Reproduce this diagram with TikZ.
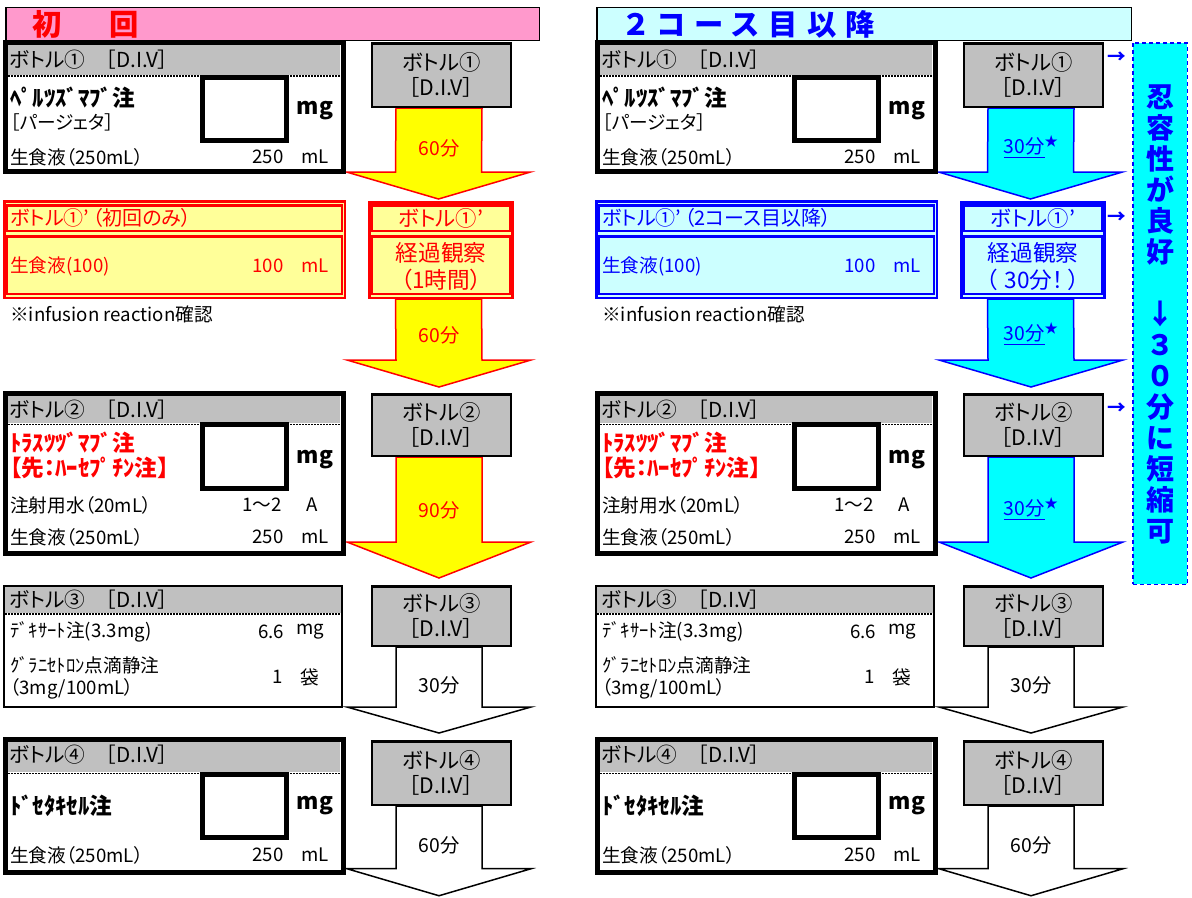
\documentclass[tikz,border=0pt]{standalone}
\usepackage{fontspec}
\setmainfont{Noto Sans CJK JP}[RawFeature=+palt]
\usetikzlibrary{calc}
\newdimen\pxu \pxu=0.75pt
\newcommand\fsN{\fontsize{14pt}{18pt}\selectfont}
\newcommand\fsC{\fontsize{15.5pt}{18pt}\selectfont}
\newcommand\fsT{\fontsize{15pt}{18pt}\selectfont}
\newcommand\fsL{\fontsize{16pt}{18.75pt}\selectfont}
\newcommand\fsB{\fontsize{17pt}{20pt}\selectfont\bfseries}
\newcommand\fsK{\fontsize{17pt}{20.25pt}\selectfont}
\newcommand\fsH{\fontsize{22pt}{24pt}\selectfont\bfseries\addfontfeature{LetterSpace=32}}
\newcommand\fsV{\fontsize{21pt}{23.25pt}\selectfont\bfseries}
\newcommand\fsA{\fontsize{14.5pt}{17pt}\selectfont}
\newcommand\starlbl{\underline{30分}\raisebox{0.35em}{\fontsize{10pt}{10pt}\selectfont ★}}
\definecolor{pinkH}{HTML}{FF99CC}
\definecolor{cyanL}{HTML}{CCFFFF}
\definecolor{yelL}{HTML}{FFFF99}
\definecolor{grayH}{HTML}{C0C0C0}
\definecolor{cyanA}{HTML}{00FFFF}
\definecolor{blueT}{HTML}{0000FF}
\definecolor{redT}{HTML}{FF0000}
\definecolor{yelA}{HTML}{FFFF00}
\pgfdeclarelayer{bg}
\pgfsetlayers{bg,main}
\tikzset{
 txt/.style={inner sep=0pt, anchor=west, font=\fsN},
 lbl/.style={inner sep=0pt, anchor=west, font=\fsC},
 txtB/.style={inner sep=0pt, anchor=west, font=\fsB},
 num/.style={inner sep=0pt, font=\fsN},
 thickbox/.style={line width=5\pxu},
 dotline/.style={line width=1.5\pxu, dash pattern=on 1.5\pxu off 1.5\pxu},
 flowbox/.style={draw, line width=2.5\pxu, fill=grayH, minimum width=139\pxu, align=center, font=\fsL, inner sep=0pt},
 yarrow/.style={fill=yelA, draw=redT, line width=1.5\pxu},
 carrow/.style={fill=cyanA, draw=blueT, line width=1.5\pxu},
 warrow/.style={fill=white, draw=black, line width=1.5\pxu},
 alabel/.style={inner sep=0pt, font=\fsA},
 hdrbox/.style={draw, line width=1.5\pxu, inner sep=0pt, minimum height=33\pxu},
}
% #1 style, #2 from node, #3 to node, #4 head height, #5 gap
\newcommand\flowarrow[5]{%
 \draw[#1] ($(#2.south)+(-45.5,0)$) -- ($(#3.north)+(-45.5,-#4-#5)$) -- ($(#3.north)+(-94.5,-#4-#5)$) -- ($(#3.north)+(-2.5,-#5)$) -- ($(#3.north)+(89.5,-#4-#5)$) -- ($(#3.north)+(40.5,-#4-#5)$) -- ($(#2.south)+(40.5,0)$) -- cycle;}
% #1 prefix, #2 x shift, #3 colour of 1', #4 fill of 1', #5 title of 1'
\newcommand\cardcol[5]{%
\begin{scope}[shift={(#2,0)}]
 % bottle 1
 \fill[grayH] (8,45) rectangle (340,75);
 \draw[dotline] (8,76) -- (340,76);
 \draw[thickbox] (5.5,42.5) rectangle (343,171);
 \draw[thickbox,fill=white] (202.5,77.5) rectangle (286.5,140.5);
 \node[lbl] (#1-b1h) at (9,60) {ボトル①　［D.I.V］};
 \node[txtB] (#1-b1d) at (10,98) {ﾍﾟﾙﾂｽﾞﾏﾌﾞ注};
 \node[txt] (#1-b1k) at (10,122) {［パージェタ］};
 \node[num,font=\fsB] (#1-b1mg) at (315,111) {mg};
 \node[txt] (#1-b1s) at (10,157) {生食液（250mL）};
 \node[num] (#1-b1n) at (268,157) {250};
 \node[num] (#1-b1u) at (315,157) {mL};
 % bottle 1'
 \draw[#3, line width=2.5\pxu, fill=#4] (4.25,201.25) rectangle (344.75,297.75);
 \draw[#3, line width=2.5\pxu] (7,205.25) rectangle (342,231);
 \draw[#3, line width=2.5\pxu] (7,236.25) rectangle (342,294);
 \node[inner sep=0pt, anchor=west, font=\fsT, text=#3] (#1-bpt) at (10,218) {#5};
 \node[txt, text=#3] (#1-bps) at (10,266) {生食液(100)};
 \node[num, text=#3] (#1-bpn) at (268,266) {100};
 \node[num, text=#3] (#1-bpu) at (315,266) {mL};
 \node[txt] (#1-ir) at (10,314) {※infusion reaction確認};
 % bottle 2
 \fill[grayH] (8,396) rectangle (340,423);
 \draw[dotline] (8,424.5) -- (340,424.5);
 \draw[thickbox] (5.5,393.5) rectangle (343,553.5);
 \draw[thickbox,fill=white] (202.5,424.5) rectangle (286.5,488.5);
 \node[lbl] (#1-b2h) at (9,410) {ボトル②　［D.I.V］};
 \node[txtB, text=redT] (#1-b2d) at (10,443) {ﾄﾗｽﾂﾂﾞﾏﾌﾞ注};
 \node[txtB, text=redT] (#1-b2e) at (10,468) {【先：ﾊｰｾﾌﾟﾁﾝ注】};
 \node[num,font=\fsB] (#1-b2mg) at (315,460) {mg};
 \node[txt] (#1-b2w) at (10,505) {注射用水（20mL）};
 \node[num] (#1-b2wn) at (262,505) {1〜2};
 \node[num] (#1-b2wu) at (312,505) {A};
 \node[txt] (#1-b2s) at (10,537) {生食液（250mL）};
 \node[num] (#1-b2n) at (268,537) {250};
 \node[num] (#1-b2u) at (315,537) {mL};
 % bottle 3
 \fill[grayH] (5,587) rectangle (342,613);
 \draw[dotline] (5,614) -- (342,614);
 \draw[line width=2.5\pxu] (4,586) rectangle (342,707);
 \node[lbl] (#1-b3h) at (9,600) {ボトル③　［D.I.V］};
 \node[txt] (#1-b3d) at (10,632) {ﾃﾞｷｻｰﾄ注(3.3mg)};
 \node[num] (#1-b3dn) at (271,632) {6.6};
 \node[num] (#1-b3du) at (310,632) {mg};
 \node[txt] (#1-b3g) at (10,665) {ｸﾞﾗﾆｾﾄﾛﾝ点滴静注};
 \node[txt] (#1-b3g2) at (10,689) {（3mg/100mL）};
 \node[num] (#1-b3gn) at (278,677) {1};
 \node[num] (#1-b3gu) at (310,677) {袋};
 % bottle 4
 \fill[grayH] (8,742) rectangle (340,772);
 \draw[dotline] (8,773.5) -- (340,773.5);
 \draw[thickbox] (5.5,739.5) rectangle (343,872);
 \draw[thickbox,fill=white] (202.5,774.5) rectangle (286.5,837.5);
 \node[lbl] (#1-b4h) at (9,755) {ボトル④　［D.I.V］};
 \node[txtB] (#1-b4d) at (10,806) {ﾄﾞｾﾀｷｾﾙ注};
 \node[num,font=\fsB] (#1-b4mg) at (315,806) {mg};
 \node[txt] (#1-b4s) at (10,855) {生食液（250mL）};
 \node[num] (#1-b4n) at (268,855) {250};
 \node[num] (#1-b4u) at (315,855) {mL};
\end{scope}}
\begin{document}
\begin{tikzpicture}[x=0.75pt,y=-0.75pt]
\useasboundingbox (0,0) rectangle (1192,897);
% headers
\node[hdrbox, fill=pinkH, minimum width=533.5\pxu] (L-hdr) at (272.5,24) {};
\node[inner sep=0pt, anchor=west, font=\fsH, text=redT] (L-hdrt) at (32,24) {初　回};
\node[hdrbox, fill=cyanL, minimum width=534.5\pxu] (R-hdr) at (864,24) {};
\node[inner sep=0pt, anchor=west, font=\fsH, text=blueT] (R-hdrt) at (625,24) {２コース目以降};
% cards
\cardcol{L}{0}{redT}{yelL}{ボトル①’\,（初回のみ）}
\cardcol{R}{592}{blueT}{cyanL}{ボトル①’\,（2コース目以降）}
% left flow
\node[flowbox, minimum height=63.5\pxu] (L-f1) at (441.5,75) {ボトル①\\［D.I.V］};
\node[draw=redT, line width=2.5\pxu, fill=yelL, minimum width=143\pxu, minimum height=95.5\pxu, inner sep=0pt] (L-f1p) at (441,250) {};
\draw[redT, line width=2.5\pxu] (371.5,205.25) rectangle (510.5,231);
\draw[redT, line width=2.5\pxu] (371.5,236.25) rectangle (510.5,294);
\node[inner sep=0pt, font=\fsL, text=redT] (L-f1pt) at (441,218) {ボトル①’};
\node[inner sep=0pt, font=\fsK, text=redT, align=center] (L-f1pb) at (441,266.5) {経過観察\\（1時間）};
\node[flowbox, minimum height=61.5\pxu] (L-f2) at (441.5,425) {ボトル②\\［D.I.V］};
\node[flowbox, minimum height=59.5\pxu] (L-f3) at (441.5,616) {ボトル③\\［D.I.V］};
\node[flowbox, minimum height=63.5\pxu] (L-f4) at (441.5,773) {ボトル④\\［D.I.V］};
\node[inner sep=0pt, minimum size=0pt] (L-end) at (441.5,896) {};
\begin{pgfonlayer}{bg}
\flowarrow{yarrow}{L-f1}{L-f1p}{27}{2}
\flowarrow{yarrow}{L-f1p}{L-f2}{27}{6}
\flowarrow{yarrow}{L-f2}{L-f3}{36}{7}
\flowarrow{warrow}{L-f3}{L-f4}{26}{7}
\flowarrow{warrow}{L-f4}{L-end}{27}{0}
\end{pgfonlayer}
\node[alabel, text=redT] (L-a1) at (439,148) {60分};
\node[alabel, text=redT] (L-a2) at (439,335) {60分};
\node[alabel, text=redT] (L-a3) at (439,510) {90分};
\node[alabel] (L-a4) at (439,685) {30分};
\node[alabel] (L-a5) at (439,845) {60分};
% right flow
\node[flowbox, minimum height=63.5\pxu] (R-f1) at (1033.5,75) {ボトル①\\［D.I.V］};
\node[draw=blueT, line width=2.5\pxu, fill=cyanL, minimum width=143\pxu, minimum height=95.5\pxu, inner sep=0pt] (R-f1p) at (1033,250) {};
\draw[blueT, line width=2.5\pxu] (963.5,205.25) rectangle (1102.5,231);
\draw[blueT, line width=2.5\pxu] (963.5,236.25) rectangle (1102.5,294);
\node[inner sep=0pt, font=\fsL, text=blueT] (R-f1pt) at (1033,218) {ボトル①’};
\node[inner sep=0pt, font=\fsK, text=blueT, align=center] (R-f1pb) at (1033,266.5) {経過観察\\（\hspace{0.3em}30分！\hspace{0.2em}）};
\node[flowbox, minimum height=61.5\pxu] (R-f2) at (1033.5,425) {ボトル②\\［D.I.V］};
\node[flowbox, minimum height=59.5\pxu] (R-f3) at (1033.5,616) {ボトル③\\［D.I.V］};
\node[flowbox, minimum height=63.5\pxu] (R-f4) at (1033.5,773) {ボトル④\\［D.I.V］};
\node[inner sep=0pt, minimum size=0pt] (R-end) at (1033.5,896) {};
\begin{pgfonlayer}{bg}
\flowarrow{carrow}{R-f1}{R-f1p}{27}{2}
\flowarrow{carrow}{R-f1p}{R-f2}{27}{6}
\flowarrow{carrow}{R-f2}{R-f3}{36}{7}
\flowarrow{warrow}{R-f3}{R-f4}{26}{7}
\flowarrow{warrow}{R-f4}{R-end}{27}{0}
\end{pgfonlayer}
\node[alabel, text=blueT] (R-a1) at (1031,147) {\starlbl};
\node[alabel, text=blueT] (R-a2) at (1031,334) {\starlbl};
\node[alabel, text=blueT] (R-a3) at (1031,509) {\starlbl};
\node[alabel] (R-a4) at (1031,685) {30分};
\node[alabel] (R-a5) at (1031,845) {60分};
% tolerance box
\node[draw=blueT, fill=cyanA, line width=1.5\pxu, dash pattern=on 4\pxu off 3\pxu, minimum width=54.5\pxu, minimum height=541.5\pxu, inner sep=0pt] (tol) at (1160,313.5) {};
\node[inner sep=0pt, font=\fsV, text=blueT, align=center] (tolt) at (1160,314) {忍\\容\\性\\が\\良\\好\\[23.25pt]↓\\３\\０\\分\\に\\短\\縮\\可};
\node[inner sep=0pt, font=\fsN\bfseries, text=blueT] (R-ar1) at (1117,58) {→};
\node[inner sep=0pt, font=\fsN\bfseries, text=blueT] (R-ar2) at (1117,218) {→};
\node[inner sep=0pt, font=\fsN\bfseries, text=blueT] (R-ar3) at (1117,409) {→};
\end{tikzpicture}
\end{document}
